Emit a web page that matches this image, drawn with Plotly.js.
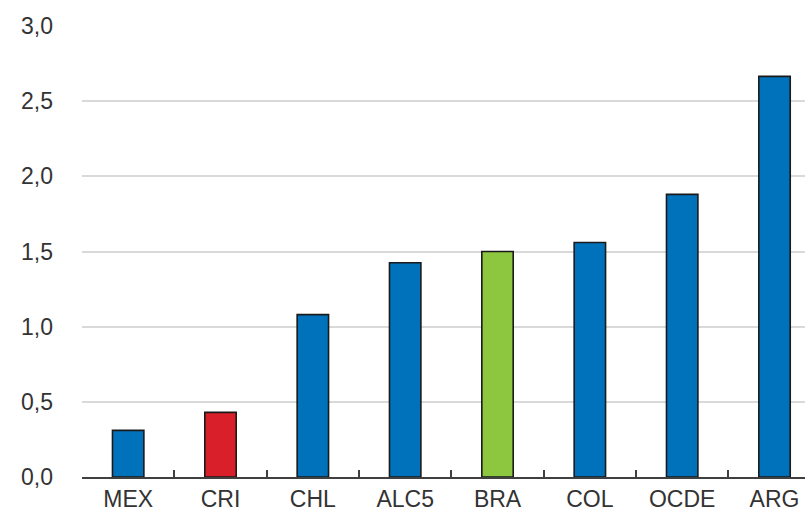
<!DOCTYPE html>
<html>
<head>
<meta charset="utf-8">
<script src="https://cdn.plot.ly/plotly-3.0.1.min.js"></script>
<style>html,body{margin:0;padding:0;background:#fff;}#chart{width:805px;height:511px;}</style>
</head>
<body>
<div id="chart"></div>
<script>
const categories = ["MEX", "CRI", "CHL", "ALC5", "BRA", "COL", "OCDE", "ARG"];
const values = [0.31, 0.43, 1.08, 1.425, 1.50, 1.56, 1.88, 2.665];
const barColors = ["#0072BC", "#D9202A", "#0072BC", "#0072BC", "#8DC63F", "#0072BC", "#0072BC", "#0072BC"];
const yTickVals = [0, 0.5, 1.0, 1.5, 2.0, 2.5, 3.0];
const yTickText = ["0,0", "0,5", "1,0", "1,5", "2,0", "2,5", "3,0"];

const trace = {
  type: "bar",
  x: categories,
  y: values,
  width: 0.34,
  marker: { color: barColors, line: { color: "#1a1a1a", width: 1.6 } },
  hoverinfo: "none"
};

const layout = {
  width: 805,
  height: 511,
  margin: { l: 82, r: 0, t: 25.5, b: 33.5 },
  paper_bgcolor: "#ffffff",
  plot_bgcolor: "#ffffff",
  showlegend: false,
  font: { family: "Liberation Sans, Arial, sans-serif", size: 23, color: "#333333" },
  xaxis: {
    type: "category",
    range: [-0.5, 7.33],
    showgrid: false,
    showline: true,
    linecolor: "#404040",
    linewidth: 2,
    ticks: "inside",
    tickson: "boundaries",
    ticklen: 7,
    tickwidth: 2,
    tickcolor: "#404040",
    tickfont: { size: 23, color: "#333333" },
    fixedrange: true
  },
  yaxis: {
    range: [0, 3],
    tickvals: yTickVals,
    ticktext: yTickText,
    showgrid: true,
    gridcolor: "#d9d9d9",
    gridwidth: 2,
    zeroline: false,
    showline: false,
    ticks: "",
    ticklabelstandoff: 28,
    tickfont: { size: 23, color: "#333333" },
    fixedrange: true
  }
};

Plotly.newPlot("chart", [trace], layout, { displayModeBar: false, staticPlot: true });
</script>
</body>
</html>
